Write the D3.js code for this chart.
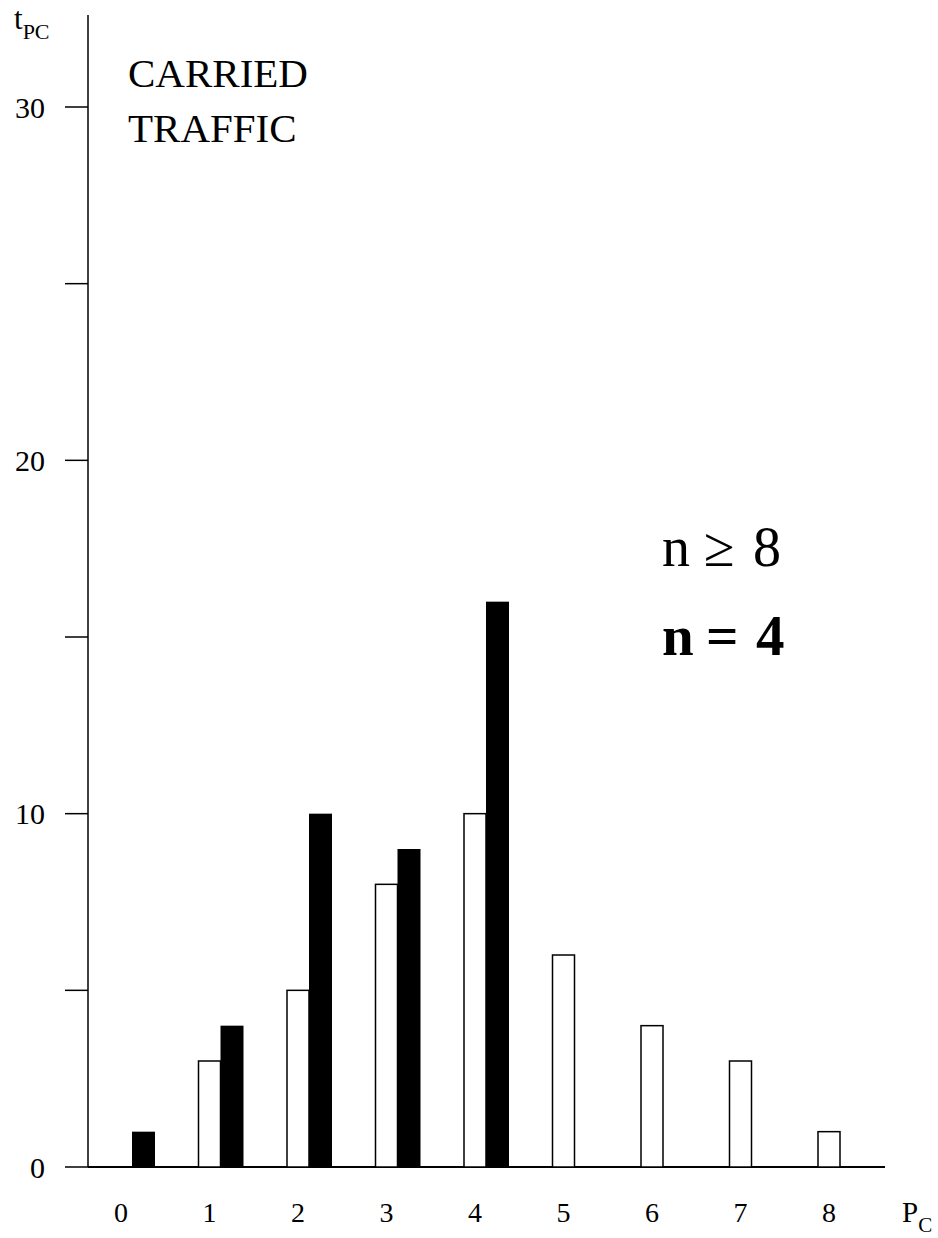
<html>
	<head>
		<script src="https://d3js.org/d3.v7.min.js"></script>
		<style>
			body { margin: 0; background: #fff; }
			text { font-family: "Liberation Serif", "Times New Roman", serif; fill: #000; }
		</style>
	</head>
	<body>
		<svg width="938" height="1238"></svg>
		<script>

		// P_C categories
		var categories = [0, 1, 2, 3, 4, 5, 6, 7, 8];
		// n >= 8 (white bars)
		var seriesN8 = [0, 3, 5, 8, 10, 6, 4, 3, 1];
		// n = 4 (black bars)
		var seriesN4 = [1, 4, 10, 9, 16, 0, 0, 0, 0];
		var yTicks = [0, 5, 10, 15, 20, 25, 30];
		var yLabels = [0, 10, 20, 30];

		var svg = d3.select("svg");

		var x = d3.scaleLinear().domain([0, 8]).range([121, 829]);
		var y = d3.scaleLinear().domain([0, 30]).range([1167, 107]);
		var barW = 22;

		// y axis
		svg.append("line")
			.attr("x1", 88).attr("x2", 88)
			.attr("y1", 15).attr("y2", y(0))
			.attr("stroke", "#000").attr("stroke-width", 1.5);

		svg.selectAll(".ytick")
			.data(yTicks)
			.enter().append("line")
			.attr("x1", 65).attr("x2", 88)
			.attr("y1", function(d) { return y(d); })
			.attr("y2", function(d) { return y(d); })
			.attr("stroke", "#000").attr("stroke-width", 1.5);

		svg.selectAll(".ylab")
			.data(yLabels)
			.enter().append("text")
			.attr("x", 45)
			.attr("y", function(d) { return y(d); })
			.attr("dy", "0.35em")
			.attr("text-anchor", "end")
			.attr("font-size", 30)
			.text(function(d) { return d; });

		// x axis
		svg.append("line")
			.attr("x1", 88).attr("x2", 885)
			.attr("y1", y(0)).attr("y2", y(0))
			.attr("stroke", "#000").attr("stroke-width", 2);

		svg.selectAll(".xlab")
			.data(categories)
			.enter().append("text")
			.attr("x", function(d) { return x(d); })
			.attr("y", 1222)
			.attr("text-anchor", "middle")
			.attr("font-size", 28)
			.text(function(d) { return d; });

		// white bars (n >= 8)
		svg.selectAll(".bw")
			.data(categories.filter(function(c) { return seriesN8[c] > 0; }))
			.enter().append("rect")
			.attr("x", function(c) { return x(c) - barW / 2; })
			.attr("y", function(c) { return y(seriesN8[c]); })
			.attr("width", barW)
			.attr("height", function(c) { return y(0) - y(seriesN8[c]); })
			.attr("fill", "#fff")
			.attr("stroke", "#000")
			.attr("stroke-width", 1.5);

		// black bars (n = 4)
		svg.selectAll(".bb")
			.data(categories.filter(function(c) { return seriesN4[c] > 0; }))
			.enter().append("rect")
			.attr("x", function(c) { return x(c) + barW / 2; })
			.attr("y", function(c) { return y(seriesN4[c]); })
			.attr("width", barW + 1)
			.attr("height", function(c) { return y(0) - y(seriesN4[c]); })
			.attr("fill", "#000");

		// axis titles
		var ty = svg.append("text").attr("x", 14).attr("y", 29).attr("font-size", 31);
		ty.append("tspan").text("t");
		ty.append("tspan").attr("font-size", 22).attr("dy", 10).text("PC");

		var tx = svg.append("text").attr("x", 902).attr("y", 1222).attr("font-size", 29);
		tx.append("tspan").text("P");
		tx.append("tspan").attr("font-size", 21).attr("dy", 10).text("C");

		// annotations
		svg.append("text").attr("x", 128).attr("y", 87).attr("font-size", 41).text("CARRIED");
		svg.append("text").attr("x", 128).attr("y", 142).attr("font-size", 41).text("TRAFFIC");

		var l1 = svg.append("text").attr("y", 566).attr("font-size", 56);
		l1.append("tspan").attr("x", 662).text("n");
		l1.append("tspan").attr("x", 704).text("\u2265");
		l1.append("tspan").attr("x", 753).text("8");

		var l2 = svg.append("text").attr("y", 655).attr("font-size", 57).attr("font-weight", "bold");
		l2.append("tspan").attr("x", 662).text("n");
		l2.append("tspan").attr("x", 706).text("=");
		l2.append("tspan").attr("x", 756).text("4");
		</script>
	</body>
</html>
